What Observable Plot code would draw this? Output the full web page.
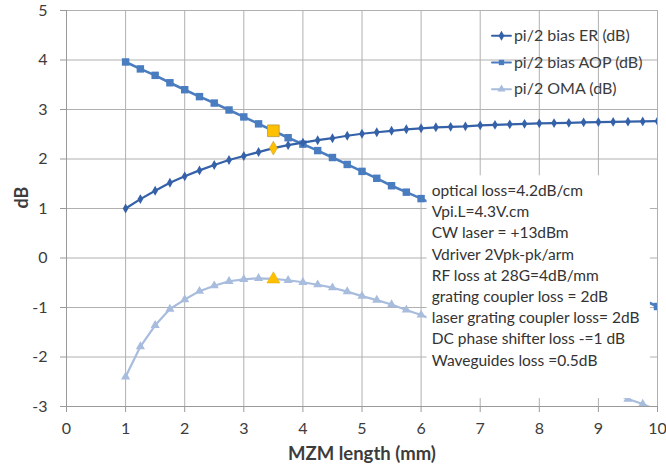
<!DOCTYPE html>
<html>
<head>
<meta charset="utf-8">
<script src="https://cdn.jsdelivr.net/npm/d3@7"></script>
<script src="https://cdn.jsdelivr.net/npm/@observablehq/plot@0.6"></script>
<style>
  html, body { margin: 0; padding: 0; background: #fff; }
  #chart svg { display: block; }
</style>
</head>
<body>
<div id="chart"></div>
<script>
// ---- data ----
const xTicks = [0, 1, 2, 3, 4, 5, 6, 7, 8, 9, 10];
const yTicks = [-3, -2, -1, 0, 1, 2, 3, 4, 5];

const erX = [1, 1.25, 1.5, 1.75, 2, 2.25, 2.5, 2.75, 3, 3.25, 3.5, 3.75, 4, 4.25, 4.5, 4.75, 5, 5.25, 5.5, 5.75, 6,
             6.25, 6.5, 6.75, 7, 7.25, 7.5, 7.75, 8, 8.25, 8.5, 8.75, 9, 9.25, 9.5, 9.75, 10];
const erY = [1.00, 1.19, 1.36, 1.52, 1.65, 1.77, 1.88, 1.98, 2.06, 2.14, 2.22, 2.28, 2.33, 2.38, 2.42, 2.47, 2.51, 2.54, 2.57, 2.60, 2.62,
             2.64, 2.65, 2.66, 2.68, 2.69, 2.70, 2.71, 2.72, 2.725, 2.73, 2.74, 2.745, 2.75, 2.755, 2.76, 2.765];

const aopX = [1, 1.25, 1.5, 1.75, 2, 2.25, 2.5, 2.75, 3, 3.25, 3.5, 3.75, 4, 4.25, 4.5, 4.75, 5, 5.25, 5.5, 5.75, 6, 10];
const aopY = [3.96, 3.82, 3.69, 3.54, 3.40, 3.26, 3.13, 2.99, 2.85, 2.71, 2.57, 2.43, 2.30, 2.17, 2.03, 1.89, 1.75, 1.61, 1.46, 1.33, 1.20, -0.98];

const omaX = [1, 1.25, 1.5, 1.75, 2, 2.25, 2.5, 2.75, 3, 3.25, 3.5, 3.75, 4, 4.25, 4.5, 4.75, 5, 5.25, 5.5, 5.75, 6, 9.5, 9.75, 10];
const omaY = [-2.40, -1.79, -1.36, -1.03, -0.84, -0.67, -0.56, -0.47, -0.43, -0.41, -0.42, -0.45, -0.49, -0.54, -0.60, -0.68, -0.77, -0.85, -0.94, -1.05, -1.15, -2.85, -2.95, -3.08];

// highlighted operating point (MZM length = 3.5 mm)
const highlightX = 3.5;
const highlightER = 2.22;
const highlightAOP = 2.57;
const highlightOMA = -0.43;

const seriesNames = ["pi/2 bias ER (dB)", "pi/2 bias AOP (dB)", "pi/2 OMA (dB)"];
const seriesColors = ["#3461a8", "#4a7dc0", "#a8bcdd"];
const seriesSymbols = ["diamond", "square", "triangle"];

const noteLines = [
  "optical loss=4.2dB/cm",
  "Vpi.L=4.3V.cm",
  "CW laser = +13dBm",
  "Vdriver 2Vpk-pk/arm",
  "RF loss at 28G=4dB/mm",
  "grating coupler loss = 2dB",
  "laser grating coupler loss= 2dB",
  "DC phase shifter loss -=1 dB",
  "Waveguides loss =0.5dB"
];

// ---- build ----
const er = erX.map((x, i) => ({x, y: erY[i]}));
const aop = aopX.map((x, i) => ({x, y: aopY[i]}));
const oma = omaX.map((x, i) => ({x, y: omaY[i]}));

// annotation box and legend placement (data units)
const noteBox = {x1: 6.1, x2: 9.88, y1: -2.84, y2: 1.66};
const noteAnchor = {x: 6.18, y: 1.56};
const legendRows = [4.49, 3.95, 3.41];
const legendLine = [7.2, 7.52];
const legendTextX = 7.57;

const legendLines = [];
const legendItems = seriesNames.map((name, i) => {
  legendLines.push({x: legendLine[0], y: legendRows[i], k: i}, {x: legendLine[1], y: legendRows[i], k: i});
  return {name, x: (legendLine[0] + legendLine[1]) / 2, tx: legendTextX, y: legendRows[i], k: i};
});

const font = "Lato, 'Open Sans', sans-serif";
const gridColor = "#b0b0b0";
const axisColor = "#9a9a9a";
const labelColor = "#3c3c3c";

const chart = Plot.plot({
  width: 666,
  height: 470,
  marginTop: 10,
  marginLeft: 66,
  marginRight: 9,
  marginBottom: 64,
  style: {fontFamily: font, background: "#fff", color: labelColor},
  x: {domain: [0, 10], axis: null},
  y: {domain: [-3, 5], axis: null},
  marks: [
    Plot.gridX(xTicks, {stroke: gridColor, strokeOpacity: 1}),
    Plot.gridY(yTicks, {stroke: gridColor, strokeOpacity: 1}),
    Plot.axisX({ticks: xTicks, tickSize: 6, tickPadding: 10, stroke: axisColor, fill: labelColor, fontSize: 16, tickFormat: d => String(d)}),
    Plot.axisY({ticks: yTicks, tickSize: 6, tickPadding: 13, stroke: axisColor, fill: labelColor, fontSize: 16, tickFormat: d => String(d)}),
    Plot.ruleX([0], {stroke: axisColor}),
    Plot.ruleY([-3], {stroke: axisColor}),

    // series lines
    Plot.line(oma, {x: "x", y: "y", stroke: seriesColors[2], strokeWidth: 2.2, clip: true}),
    Plot.dot(oma, {x: "x", y: "y", symbol: "triangle", fill: seriesColors[2], r: 3.4, clip: true}),
    Plot.line(aop, {x: "x", y: "y", stroke: seriesColors[1], strokeWidth: 2.6, clip: true}),
    Plot.dot(aop, {x: "x", y: "y", symbol: "square", fill: seriesColors[1], r: 4.2, clip: true}),
    Plot.line(er, {x: "x", y: "y", stroke: seriesColors[0], strokeWidth: 2.2, clip: true}),
    Plot.dot(er, {x: "x", y: "y", symbol: "diamond", fill: seriesColors[0], r: 3, clip: true}),

    // highlighted points
    Plot.dot([{x: highlightX, y: highlightAOP}], {x: "x", y: "y", symbol: "square", fill: "#ffc000", stroke: "#b99a3e", strokeWidth: 0.8, r: 6.6}),
    Plot.dot([{x: highlightX, y: highlightER}], {x: "x", y: "y", symbol: "diamond", fill: "#ffc000", stroke: "#c8a040", strokeWidth: 0.6, r: 4.2}),
    Plot.dot([{x: highlightX, y: highlightOMA}], {x: "x", y: "y", symbol: "triangle", fill: "#ffc000", stroke: "#e0a800", strokeWidth: 0.5, r: 4.8}),

    // annotation box
    Plot.rect([noteBox], {x1: "x1", x2: "x2", y1: "y1", y2: "y2", fill: "#fff"}),
    Plot.text([noteLines.join("\n")], {
      x: noteAnchor.x, y: noteAnchor.y, textAnchor: "start", lineAnchor: "top",
      lineHeight: 1.37, fontSize: 15.5, fill: "#333", fontFamily: font
    }),

    // legend
    Plot.line(legendLines, {x: "x", y: "y", z: "k", stroke: d => seriesColors[d.k], strokeWidth: 2}),
    Plot.dot(legendItems, {x: "x", y: "y", symbol: d => seriesSymbols[d.k], fill: d => seriesColors[d.k], r: 3}),
    Plot.text(legendItems, {x: "tx", y: "y", text: "name", textAnchor: "start", fontSize: 16, fill: labelColor, fontFamily: font}),

    // axis titles
    Plot.text(["MZM length (mm)"], {frameAnchor: "bottom", dy: 53, fontSize: 18.5, fontWeight: "bold", fill: labelColor, fontFamily: font}),
    Plot.text(["dB"], {frameAnchor: "left", dx: -44, rotate: -90, fontSize: 18, fontWeight: "bold", fill: labelColor, fontFamily: font})
  ]
});

document.getElementById("chart").appendChild(chart);
</script>
</body>
</html>
